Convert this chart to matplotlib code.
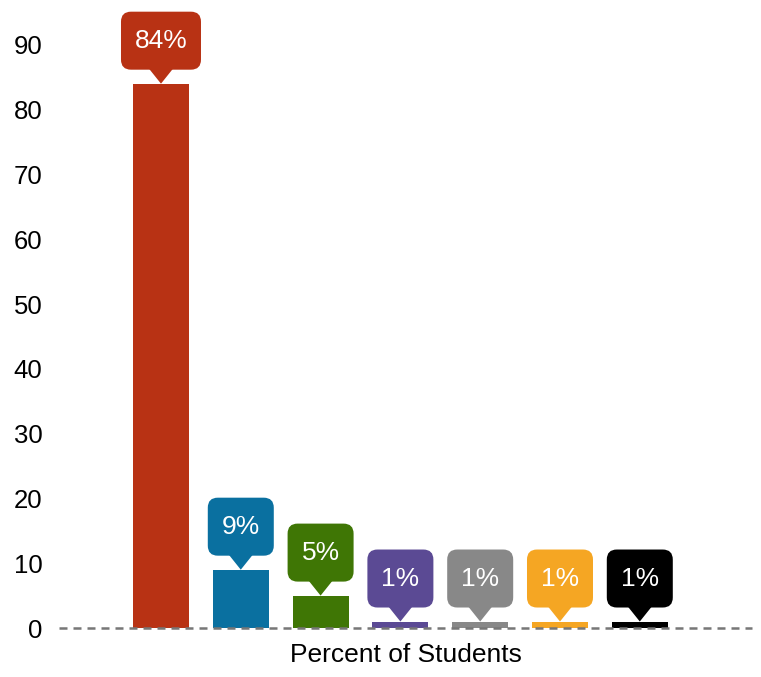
import numpy as np
import matplotlib
matplotlib.use("Agg")
import matplotlib.pyplot as plt
import matplotlib.transforms as mtransforms
from matplotlib.patches import FancyBboxPatch, Polygon

plt.rcParams['font.family'] = ['Liberation Sans', 'DejaVu Sans']

# 数据
groups = ["A", "B", "C", "D", "E", "F", "G"]
values = [84, 9, 5, 1, 1, 1, 1]
labels = ["84%", "9%", "5%", "1%", "1%", "1%", "1%"]
colors = ["#B83214", "#0A70A0", "#3F7605", "#5B4A94", "#888888", "#F5A623", "#000000"]
yticks = [0, 10, 20, 30, 40, 50, 60, 70, 80, 90]

fig = plt.figure(figsize=(7.61, 6.77), dpi=100)
ax = fig.add_axes([59 / 761, 49 / 677, (752 - 59) / 761, 615.6 / 677])

x = np.arange(len(values))
ax.bar(x, values, width=0.7, color=colors, zorder=2)

ax.set_xlim(-1.278, 7.406)
ax.set_ylim(0, 95)
ax.set_yticks(yticks)
ax.set_xticks([])
ax.tick_params(axis='y', length=0, pad=12, labelsize=18.5)
for s in ax.spines.values():
    s.set_visible(False)
ax.axhline(0, color="#777777", lw=1.8, ls=(0, (3.2, 2.4)), zorder=3, clip_on=False)
ax.set_xlabel("Percent of Students", fontsize=19, labelpad=11)

# 气泡标签（像素偏移，以柱顶为尖端）
for xi, v, lab, c in zip(x, values, labels, colors):
    tr = mtransforms.Affine2D() + mtransforms.ScaledTranslation(xi, v, ax.transData)
    w = 80 if len(lab) > 2 else 66
    h = 58
    box = FancyBboxPatch((-w / 2, 14), w, h, boxstyle="round,pad=0,rounding_size=10",
                         fc=c, ec="none", transform=tr, clip_on=False, zorder=4)
    tri = Polygon([(-12, 15), (12, 15), (0, 0)], closed=True, fc=c, ec="none",
                  transform=tr, clip_on=False, zorder=4)
    ax.add_patch(box)
    ax.add_patch(tri)
    ax.text(0, 14 + h / 2, lab, transform=tr, color="white", fontsize=19,
            ha="center", va="center", zorder=5)

fig.savefig("out.png", dpi=100)
